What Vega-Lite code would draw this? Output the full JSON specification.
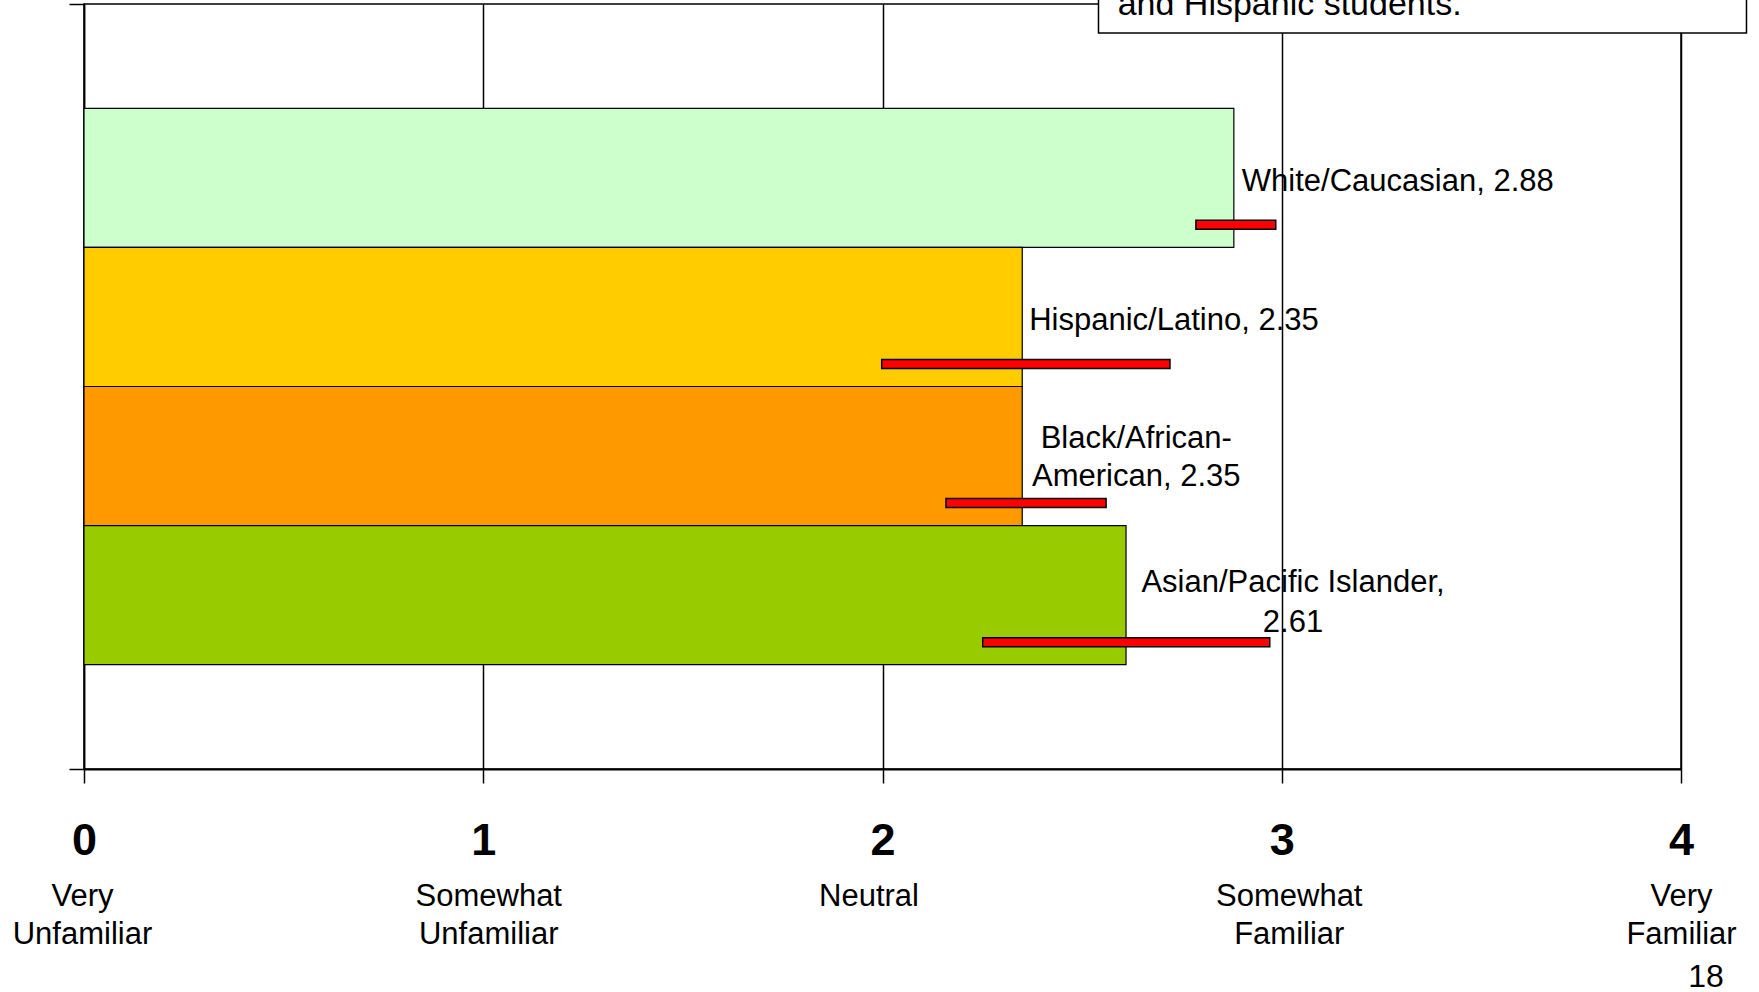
{
  "$schema": "https://vega.github.io/schema/vega-lite/v6.json",
  "width": 1597,
  "height": 765,
  "autosize": {"type": "none"},
  "padding": {"left": 84, "top": 4, "right": 78, "bottom": 223},
  "background": "white",
  "config": {
    "view": {"stroke": "black", "strokeWidth": 1.5},
    "font": "Liberation Sans",
    "text": {"font": "Liberation Sans", "color": "black"}
  },
  "datasets": {
    "groups": [
      {"group": "White/Caucasian", "mean": 2.88, "lo": 2.785, "hi": 2.985, "label": "White/Caucasian, 2.88"},
      {"group": "Hispanic/Latino", "mean": 2.35, "lo": 1.998, "hi": 2.72, "label": "Hispanic/Latino, 2.35"},
      {"group": "Black/African-American", "mean": 2.35, "lo": 2.159, "hi": 2.56, "label": "Black/African-\nAmerican, 2.35"},
      {"group": "Asian/Pacific Islander", "mean": 2.61, "lo": 2.251, "hi": 2.97, "label": "Asian/Pacific Islander,\n2.61"}
    ],
    "note": [{"text": "and Hispanic students."}]
  },
  "layer": [
    {
      "data": {"name": "groups"},
      "layer": [
        {
          "mark": {"type": "bar", "stroke": "black", "strokeWidth": 1.2},
          "encoding": {
            "y": {"field": "group", "type": "nominal",
                  "scale": {"domain": ["White/Caucasian", "Hispanic/Latino", "Black/African-American", "Asian/Pacific Islander"], "paddingInner": 0, "paddingOuter": 0.75},
                  "axis": null},
            "x": {"field": "mean", "type": "quantitative", "stack": null,
                  "scale": {"domain": [0, 4], "nice": false},
                  "axis": {"orient": "bottom", "values": [0, 1, 2, 3, 4], "format": "d", "labelFontSize": 45, "labelFontWeight": "bold",
                           "labelBaseline": "alphabetic", "labelPadding": 71, "labelColor": "black", "labelFlush": false,
                           "labelOverlap": false, "labelFont": "Liberation Sans",
                           "tickSize": 14, "tickColor": "black", "tickWidth": 1.5,
                           "domainColor": "black", "domainWidth": 2,
                           "grid": true, "gridColor": "black", "gridWidth": 1.5, "gridOpacity": 1, "title": null}},
            "color": {"field": "group", "type": "nominal",
                      "scale": {"domain": ["White/Caucasian", "Hispanic/Latino", "Black/African-American", "Asian/Pacific Islander"],
                                "range": ["#CCFFCC", "#FFCC00", "#FF9900", "#99CC00"]},
                      "legend": null}
          }
        },
        {
          "mark": {"type": "bar", "height": 9, "yOffset": 47, "fill": "#FF0000", "stroke": "black", "strokeWidth": 1.5},
          "encoding": {
            "y": {"field": "group", "type": "nominal"},
            "x": {"field": "lo", "type": "quantitative"},
            "x2": {"field": "hi"}
          }
        },
        {
          "transform": [{"filter": "datum.group == 'White/Caucasian'"}],
          "mark": {"type": "text", "align": "left", "baseline": "middle", "dx": 8, "dy": 4, "fontSize": 31, "lineBreak": "\n"},
          "encoding": {
            "y": {"field": "group", "type": "nominal"},
            "x": {"field": "mean", "type": "quantitative"},
            "text": {"field": "label"}
          }
        },
        {
          "transform": [{"filter": "datum.group == 'Hispanic/Latino'"}],
          "mark": {"type": "text", "align": "left", "baseline": "middle", "dx": 7, "dy": 3.8, "fontSize": 31, "lineBreak": "\n"},
          "encoding": {
            "y": {"field": "group", "type": "nominal"},
            "x": {"field": "mean", "type": "quantitative"},
            "text": {"field": "label"}
          }
        },
        {
          "transform": [{"filter": "datum.group == 'Black/African-American'"}],
          "mark": {"type": "text", "align": "center", "baseline": "middle", "dx": 114, "dy": -17, "fontSize": 31, "lineHeight": 38.4, "lineBreak": "\n"},
          "encoding": {
            "y": {"field": "group", "type": "nominal"},
            "x": {"field": "mean", "type": "quantitative"},
            "text": {"field": "label"}
          }
        },
        {
          "transform": [{"filter": "datum.group == 'Asian/Pacific Islander'"}],
          "mark": {"type": "text", "align": "center", "baseline": "middle", "dx": 167, "dy": -12.5, "fontSize": 31, "lineHeight": 40, "lineBreak": "\n"},
          "encoding": {
            "y": {"field": "group", "type": "nominal"},
            "x": {"field": "mean", "type": "quantitative"},
            "text": {"field": "label"}
          }
        }
      ]
    },
    {
      "data": {"name": "note"},
      "layer": [
        {
          "mark": {"type": "rect", "fill": "white", "stroke": "black", "strokeWidth": 1.5},
          "encoding": {
            "x": {"datum": 2.541, "type": "quantitative",
                  "scale": {"domain": [0, 4], "nice": false},
                  "axis": {"orient": "bottom", "values": [0, 1, 2, 3, 4],
                           "labelExpr": "datum.value == 0 ? ['Very','Unfamiliar'] : datum.value == 1 ? ['Somewhat','Unfamiliar'] : datum.value == 2 ? 'Neutral' : datum.value == 3 ? ['Somewhat','Familiar'] : ['Very','Familiar']",
                           "labelOffset": {"condition": [{"test": "datum.value == 2", "value": -14}, {"test": "datum.value == 1", "value": 5}, {"test": "datum.value == 3", "value": 7}, {"test": "datum.value == 0", "value": -2}], "value": 0},
                           "labelFontSize": 31, "labelFontWeight": "normal", "labelFont": "Liberation Sans",
                           "labelBaseline": "alphabetic", "labelLineHeight": 38, "labelPadding": 136,
                           "labelColor": "black", "labelFlush": false, "labelOverlap": false,
                           "ticks": false, "tickSize": 0, "domain": false, "grid": false,
                           "title": "18", "titleFontSize": 32, "titleFontWeight": "normal", "titleFont": "Liberation Sans",
                           "titleColor": "black", "titleX": 1621.6, "titleY": 217, "titleAlign": "center",
                           "titleBaseline": "alphabetic", "titleAngle": 0}},
            "x2": {"datum": 4.164},
            "y": {"datum": 0.9621, "type": "quantitative",
                  "scale": {"domain": [0, 1], "nice": false, "zero": false},
                  "axis": {"values": [0, 1], "labels": false, "tickSize": 15, "tickColor": "black", "tickWidth": 1.5,
                           "domain": true, "domainColor": "black", "domainWidth": 1.5, "grid": false, "title": null, "orient": "left"}},
            "y2": {"datum": 1.3}
          }
        },
        {
          "mark": {"type": "text", "align": "left", "baseline": "alphabetic", "fontSize": 34},
          "encoding": {
            "x": {"datum": 2.589, "type": "quantitative"},
            "y": {"datum": 0.9856, "type": "quantitative"},
            "text": {"field": "text"}
          }
        }
      ]
    }
  ],
  "resolve": {"scale": {"y": "independent"}, "axis": {"x": "independent", "y": "independent"}}
}
